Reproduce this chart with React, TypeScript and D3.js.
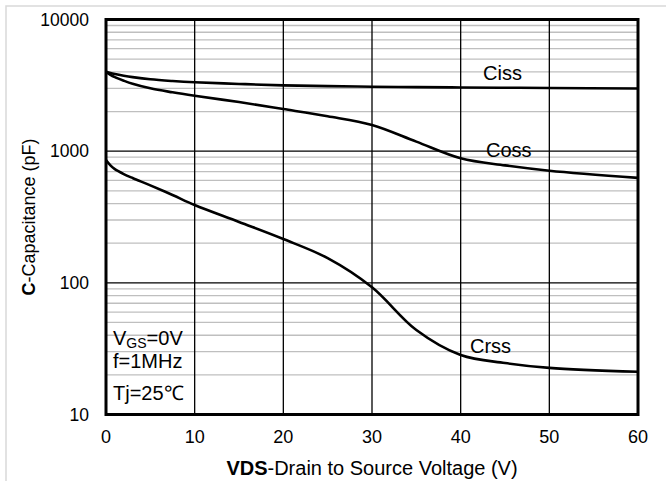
import { useEffect, useRef } from 'react'
import * as d3 from 'd3'

const vds = [0, 0.5, 1, 2, 3, 5, 7.5, 10, 15, 20, 25, 30, 35, 40, 45, 50, 60]
const ciss = [4015, 3920, 3850, 3740, 3650, 3513, 3410, 3335, 3240, 3162, 3120, 3088, 3065, 3048, 3032, 3020, 2993]
const coss = [4015, 3800, 3650, 3430, 3250, 3000, 2800, 2636, 2360, 2088, 1840, 1581, 1181, 883, 780, 711, 627]
const crss = [857, 780, 730, 670, 625, 550, 465, 390, 290, 215, 154, 92.5, 43.8, 28.3, 24.6, 22.6, 21.1]

const xTicks = [0, 10, 20, 30, 40, 50, 60]
const yTicks = [10, 100, 1000, 10000]

const font = '"Liberation Sans", Arial, sans-serif'

export default function App() {
  const ref = useRef<SVGSVGElement>(null)

  useEffect(() => {
    if (!ref.current) return
    const svg = d3.select(ref.current)
    svg.selectAll('*').remove()

    const W = 666
    const H = 481
    const m = { left: 106, right: 638, top: 19.5, bottom: 414.5 }

    const x = d3.scaleLinear().domain([0, 60]).range([m.left, m.right])
    const y = d3.scaleLog().domain([10, 10000]).range([m.bottom, m.top])

    svg.append('rect').attr('width', W).attr('height', H).attr('fill', '#fff')
    // outer chart border
    svg.append('rect')
      .attr('x', 6).attr('y', 6).attr('width', W).attr('height', H)
      .attr('fill', 'none').attr('stroke', '#d9d9d9').attr('stroke-width', 1.5)

    // minor grid
    const minors: number[] = []
    for (let d = 10; d < 10000; d *= 10) {
      for (let k = 2; k <= 9; k++) minors.push(d * k)
    }
    svg.append('g').selectAll('line').data(minors).enter().append('line')
      .attr('x1', m.left).attr('x2', m.right)
      .attr('y1', d => y(d)).attr('y2', d => y(d))
      .attr('stroke', '#bfbfbf').attr('stroke-width', 1.3)

    // major grid
    svg.append('g').selectAll('line').data([100, 1000]).enter().append('line')
      .attr('x1', m.left).attr('x2', m.right)
      .attr('y1', d => y(d)).attr('y2', d => y(d))
      .attr('stroke', '#000').attr('stroke-width', 1.3)
    svg.append('g').selectAll('line').data([10, 20, 30, 40, 50]).enter().append('line')
      .attr('y1', m.top).attr('y2', m.bottom)
      .attr('x1', d => x(d)).attr('x2', d => x(d))
      .attr('stroke', '#000').attr('stroke-width', 1.3)

    // curves
    const line = d3.line<[number, number]>()
      .x(d => x(d[0]))
      .y(d => y(d[1]))
      .curve(d3.curveCatmullRom.alpha(0.5))
    const series = [ciss, coss, crss]
    series.forEach(s => {
      svg.append('path')
        .attr('d', line(vds.map((v, i) => [v, s[i]] as [number, number])))
        .attr('fill', 'none').attr('stroke', '#000').attr('stroke-width', 2.6)
    })

    // frame
    svg.append('rect')
      .attr('x', m.left).attr('y', m.top)
      .attr('width', m.right - m.left).attr('height', m.bottom - m.top)
      .attr('fill', 'none').attr('stroke', '#000').attr('stroke-width', 3)

    // tick labels
    svg.append('g').selectAll('text').data(yTicks).enter().append('text')
      .attr('x', 89).attr('y', d => y(d)).attr('dy', '0.36em')
      .attr('text-anchor', 'end').attr('font-family', font).attr('font-size', 17.5)
      .text(d => String(d))
    svg.append('g').selectAll('text').data(xTicks).enter().append('text')
      .attr('x', d => x(d)).attr('y', 443)
      .attr('text-anchor', 'middle').attr('font-family', font).attr('font-size', 18)
      .text(d => String(d))

    // axis titles
    const xt = svg.append('text')
      .attr('x', (m.left + m.right) / 2).attr('y', 475)
      .attr('text-anchor', 'middle').attr('font-family', font).attr('font-size', 20)
    xt.append('tspan').attr('font-weight', 'bold').text('VDS')
    xt.append('tspan').text('-Drain to Source Voltage (V)')

    const yt = svg.append('text')
      .attr('transform', `translate(35,${(m.top + m.bottom) / 2}) rotate(-90)`)
      .attr('text-anchor', 'middle').attr('font-family', font).attr('font-size', 18)
    yt.append('tspan').attr('font-weight', 'bold').text('C')
    yt.append('tspan').text('-Capacitance (pF)')

    // curve labels
    const labels: [string, number, number][] = [
      ['Ciss', 483, 80],
      ['Coss', 486, 157],
      ['Crss', 470, 353],
    ]
    svg.append('g').selectAll('text').data(labels).enter().append('text')
      .attr('x', d => d[1]).attr('y', d => d[2])
      .attr('font-family', font).attr('font-size', 20)
      .text(d => d[0])

    // conditions
    const vg = svg.append('text').attr('x', 113).attr('y', 345)
      .attr('font-family', font).attr('font-size', 20)
    vg.append('tspan').text('V')
    vg.append('tspan').attr('font-size', 14).attr('dy', 3).text('GS')
    vg.append('tspan').attr('dy', -3).text('=0V')
    svg.append('text').attr('x', 113).attr('y', 368)
      .attr('font-family', font).attr('font-size', 20).text('f=1MHz')
    svg.append('text').attr('x', 113).attr('y', 400)
      .attr('font-family', font).attr('font-size', 20).text('Tj=25℃')
  }, [])

  return (
    <div style={{ position: 'absolute', left: 0, top: 0 }}>
      <svg ref={ref} width={666} height={481} style={{ display: 'block' }} />
    </div>
  )
}
